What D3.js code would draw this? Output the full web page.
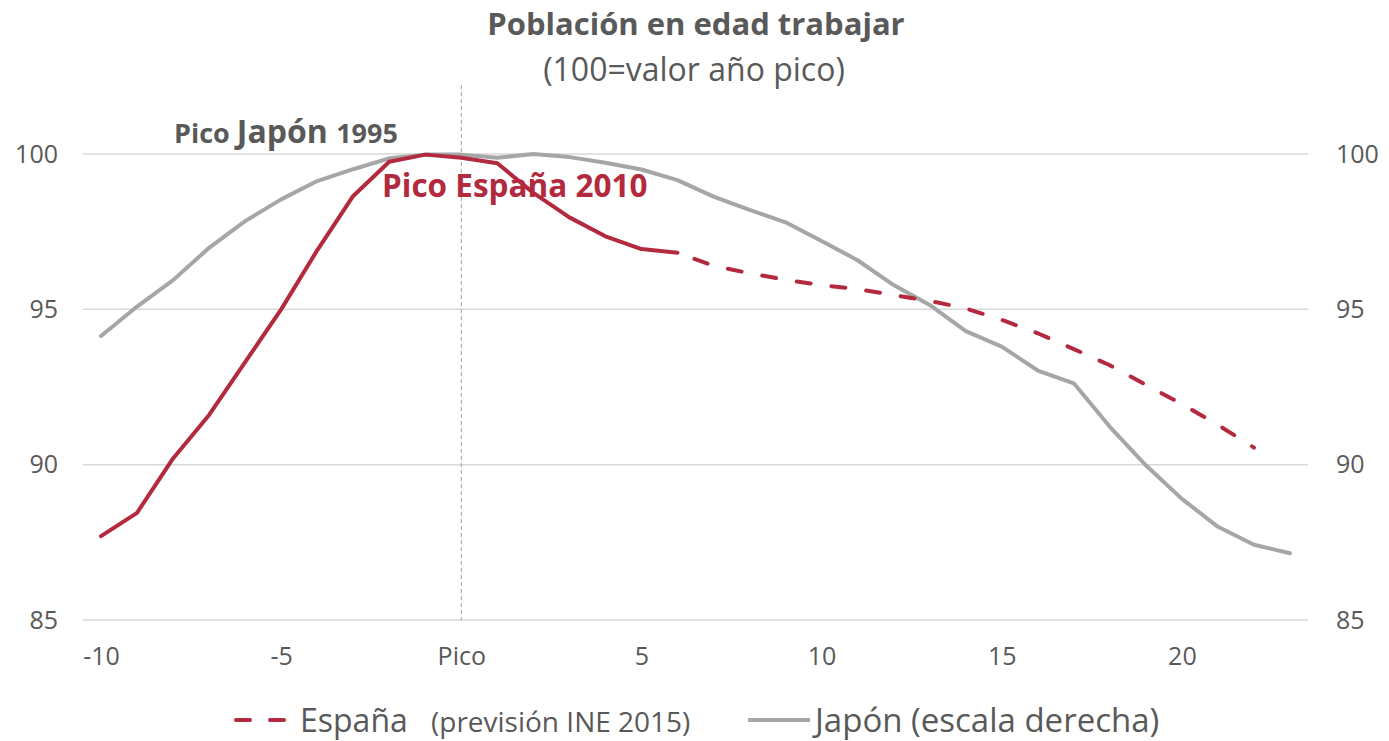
<!DOCTYPE html>
<html>
<head>
<meta charset="utf-8">
<script src="https://cdn.jsdelivr.net/npm/d3@7"></script>
<style>
  body { margin: 0; background: #fff; }
  text { font-family: "Open Sans", sans-serif; fill: #595959; }
</style>
</head>
<body>
<div id="chart"></div>
<script>
// years relative to the peak year
var categories = d3.range(-10, 24)

// Spain, observed (-10 .. 6)
var espanaReal = [87.7, 88.45, 90.2, 91.6, 93.3, 95.0, 96.9, 98.65, 99.75, 99.98,
                  99.88, 99.7, 98.75, 97.96, 97.35, 96.94, 96.82]
// Spain, INE 2015 projection (6 .. 22)
var espanaPrev = [96.82, 96.4, 96.16, 95.95, 95.78, 95.65, 95.46, 95.27, 95.03, 94.66,
                  94.23, 93.72, 93.2, 92.57, 91.95, 91.28, 90.55]
// Japan (-10 .. 23), right scale
var japon = [94.14, 95.09, 95.94, 96.98, 97.84, 98.54, 99.13, 99.51, 99.86, 99.98,
             99.98, 99.88, 100.0, 99.9, 99.72, 99.5, 99.16, 98.63, 98.2, 97.8,
             97.2, 96.58, 95.78, 95.14, 94.3, 93.8, 93.03, 92.62, 91.22, 89.98,
             88.9, 88.0, 87.42, 87.15]

var yTicks = [85, 90, 95, 100]
var xTicks = [-10, -5, 0, 5, 10, 15, 20]

var W = 1389, H = 741
var margin = {top: 154, right: 81, bottom: 121, left: 83},
    width = W - margin.left - margin.right,
    height = H - margin.top - margin.bottom

var red = "#b3293e", grey = "#a6a6a6"

var svg = d3.select("#chart")
  .append("svg")
    .attr("width", W)
    .attr("height", H)

var g = svg.append("g")
    .attr("transform", "translate(" + margin.left + "," + margin.top + ")")

var x = d3.scalePoint()
    .domain(categories)
    .range([0, width])
    .padding(0.5)

var y = d3.scaleLinear()
    .domain([85, 100])
    .range([height, 0])

// gridlines
g.selectAll(".grid")
  .data(yTicks)
  .enter()
  .append("line")
    .attr("x1", 0)
    .attr("x2", width)
    .attr("y1", function(d) { return y(d) })
    .attr("y2", function(d) { return y(d) })
    .attr("stroke", "#d9d9d9")
    .attr("stroke-width", 1.5)

// dashed marker at the peak
g.append("line")
    .attr("x1", x(0))
    .attr("x2", x(0))
    .attr("y1", 85 - margin.top)
    .attr("y2", height)
    .attr("stroke", "#a0a0a0")
    .attr("stroke-width", 1)
    .attr("stroke-dasharray", "4,3")

// axes
var left = g.append("g")
    .call(d3.axisLeft(y).tickValues(yTicks).tickSize(0).tickPadding(25))
var right = g.append("g")
    .attr("transform", "translate(" + width + ",0)")
    .call(d3.axisRight(y).tickValues(yTicks).tickSize(0).tickPadding(28))
var bottom = g.append("g")
    .attr("transform", "translate(0," + height + ")")
    .call(d3.axisBottom(x).tickValues(xTicks).tickSize(0).tickPadding(27)
      .tickFormat(function(d) { return d === 0 ? "Pico" : d }))

;[left, right, bottom].forEach(function(a) {
  a.select(".domain").remove()
  a.selectAll("text")
    .style("font-size", "25px")
    .style("font-family", "'Open Sans', sans-serif")
    .attr("fill", "#595959")
})

var line = d3.line()
    .x(function(d) { return x(d[0]) })
    .y(function(d) { return y(d[1]) })

// Japan
g.append("path")
    .datum(japon.map(function(v, i) { return [categories[i], v] }))
    .attr("d", line)
    .attr("fill", "none")
    .attr("stroke", grey)
    .attr("stroke-width", 4)
    .attr("stroke-linejoin", "round")
    .attr("stroke-linecap", "round")

// Spain observed
g.append("path")
    .datum(espanaReal.map(function(v, i) { return [categories[i], v] }))
    .attr("d", line)
    .attr("fill", "none")
    .attr("stroke", red)
    .attr("stroke-width", 4)
    .attr("stroke-linejoin", "round")
    .attr("stroke-linecap", "round")

// Spain projection
g.append("path")
    .datum(espanaPrev.map(function(v, i) { return [categories[i + 16], v] }))
    .attr("d", line)
    .attr("fill", "none")
    .attr("stroke", red)
    .attr("stroke-width", 4)
    .attr("stroke-linecap", "round")
    .attr("stroke-dasharray", "14,21")
    .attr("stroke-dashoffset", -18)

// titles
svg.append("text")
    .attr("x", 696)
    .attr("y", 35)
    .attr("text-anchor", "middle")
    .style("font-size", "31px")
    .style("font-weight", "bold")
    .text("Población en edad trabajar")

svg.append("text")
    .attr("x", 694)
    .attr("y", 81)
    .attr("text-anchor", "middle")
    .style("font-size", "32px")
    .text("(100=valor año pico)")

// annotations
var jp = svg.append("text")
    .attr("x", 174)
    .attr("y", 143)
    .style("font-weight", "bold")
jp.append("tspan").style("font-size", "27px").text("Pico ")
jp.append("tspan").style("font-size", "32px").text("Japón ")
jp.append("tspan").style("font-size", "27px").text("1995")

svg.append("text")
    .attr("x", 382)
    .attr("y", 197)
    .style("font-size", "31.5px")
    .style("font-weight", "bold")
    .style("fill", red)
    .text("Pico España 2010")

// legend
var ly = 720
svg.append("line")
    .attr("x1", 236).attr("x2", 290)
    .attr("y1", ly).attr("y2", ly)
    .attr("stroke", red)
    .attr("stroke-width", 4)
    .attr("stroke-linecap", "round")
    .attr("stroke-dasharray", "14,20")
var t1 = svg.append("text")
    .attr("x", 300)
    .attr("y", ly + 12)
t1.append("tspan").style("font-size", "32px").text("España")
t1.append("tspan").attr("x", 431).style("font-size", "28px").text("(previsión INE 2015)")

svg.append("line")
    .attr("x1", 748).attr("x2", 810)
    .attr("y1", ly).attr("y2", ly)
    .attr("stroke", grey)
    .attr("stroke-width", 4)
svg.append("text")
    .attr("x", 815)
    .attr("y", ly + 12)
    .style("font-size", "33px")
    .text("Japón (escala derecha)")
</script>
</body>
</html>
